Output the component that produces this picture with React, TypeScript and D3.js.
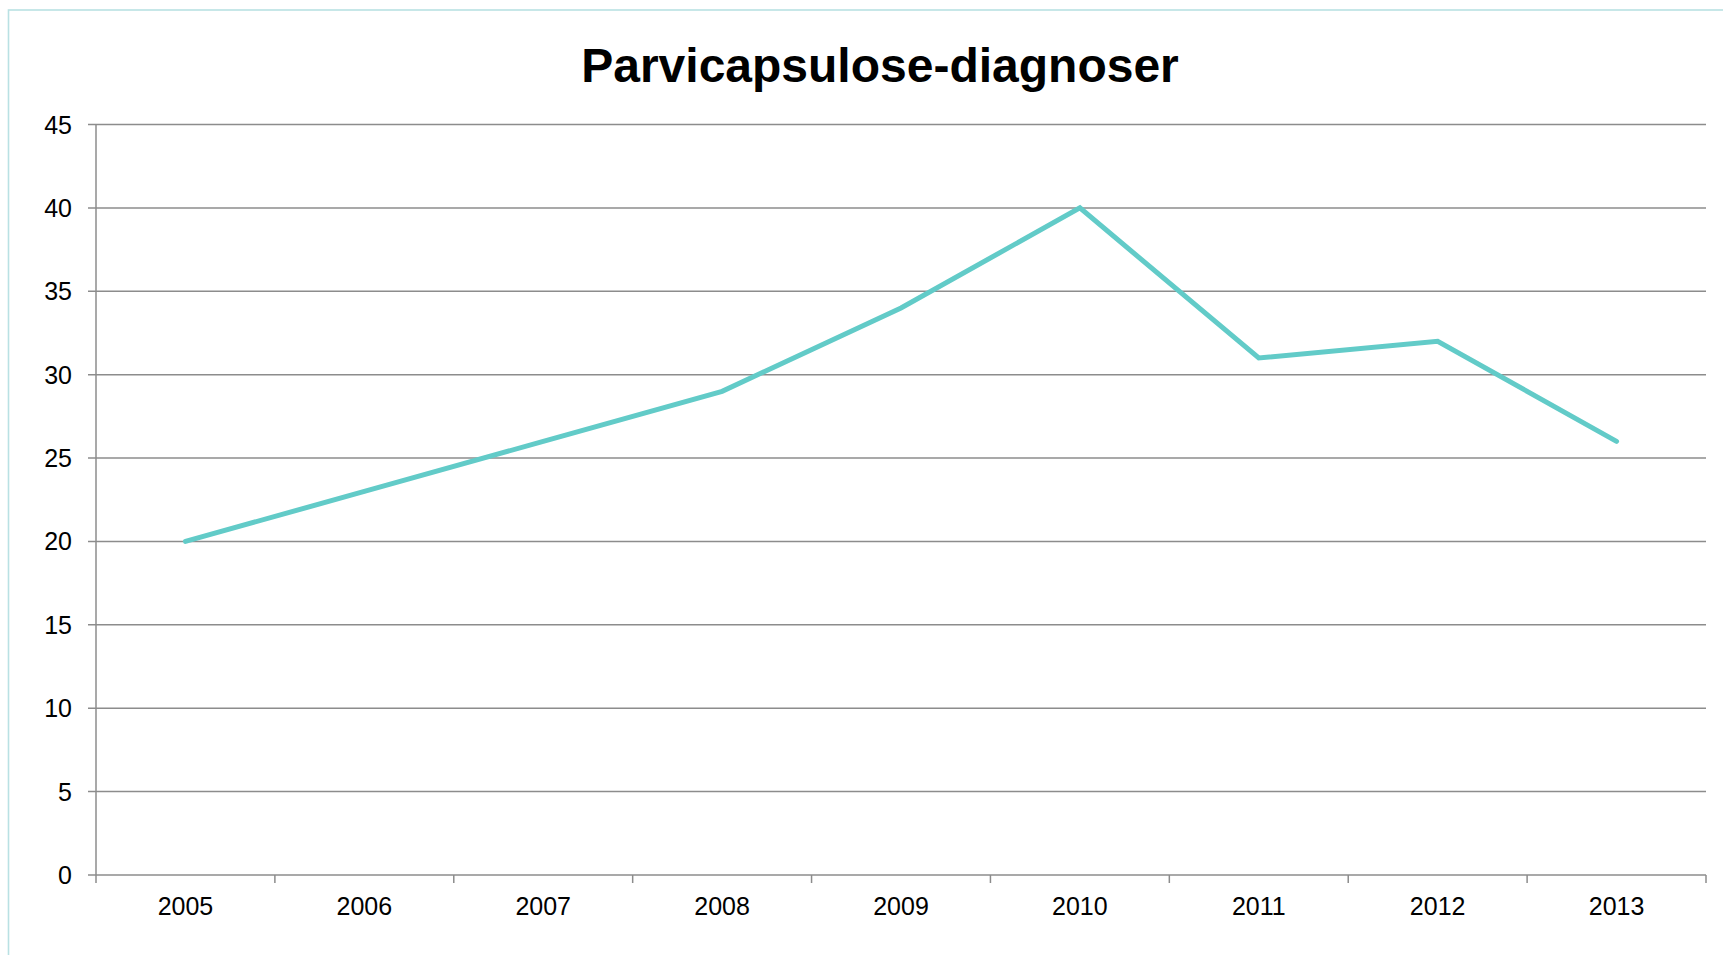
import React from "react";
import * as d3 from "d3";

const title = "Parvicapsulose-diagnoser";
const years = ["2005", "2006", "2007", "2008", "2009", "2010", "2011", "2012", "2013"];
const values = [20, 23, 26, 29, 34, 40, 31, 32, 26];
const yTicks = [0, 5, 10, 15, 20, 25, 30, 35, 40, 45];

export default function App() {
  const W = 1723, H = 955;
  const left = 96, right = 1706, top = 124.5, bottom = 875;
  const x = d3.scaleBand<string>().domain(years).range([left, right]).padding(0);
  const y = d3.scaleLinear().domain([0, 45]).range([bottom, top]);
  const line = d3
    .line<number>()
    .x((_, i) => (x(years[i]) as number) + x.bandwidth() / 2)
    .y((d) => y(d));
  const boundaries = years.map((yr) => x(yr) as number).concat([right]);
  const grid = "#8c8c8c";
  const font = "'Liberation Sans', Arial, sans-serif";
  return (
    <svg
      width={W}
      height={H}
      style={{ position: "fixed", left: 0, top: 0, background: "#fff" }}
    >
      <rect x={8.5} y={10} width={W} height={H} fill="#fff" stroke="#b9e1e3" strokeWidth={1.6} />
      <text
        x={880}
        y={82}
        textAnchor="middle"
        fontFamily={font}
        fontWeight="bold"
        fontSize={48}
        fill="#000"
      >
        {title}
      </text>
      {yTicks.map((t) => (
        <g key={t}>
          <line x1={88} x2={right} y1={y(t)} y2={y(t)} stroke={grid} strokeWidth={1.5} />
          <text
            x={72}
            y={y(t)}
            dy="0.36em"
            textAnchor="end"
            fontFamily={font}
            fontSize={25}
            fill="#000"
          >
            {t}
          </text>
        </g>
      ))}
      <line x1={left} x2={left} y1={top} y2={bottom} stroke={grid} strokeWidth={1.5} />
      {boundaries.map((bx, i) => (
        <line key={i} x1={bx} x2={bx} y1={bottom} y2={bottom + 8} stroke={grid} strokeWidth={1.5} />
      ))}
      {years.map((yr) => (
        <text
          key={yr}
          x={(x(yr) as number) + x.bandwidth() / 2}
          y={915}
          textAnchor="middle"
          fontFamily={font}
          fontSize={25}
          fill="#000"
        >
          {yr}
        </text>
      ))}
      <path
        d={line(values) || ""}
        fill="none"
        stroke="#62cbc8"
        strokeWidth={5}
        strokeLinejoin="miter"
        strokeLinecap="round"
      />
    </svg>
  );
}
